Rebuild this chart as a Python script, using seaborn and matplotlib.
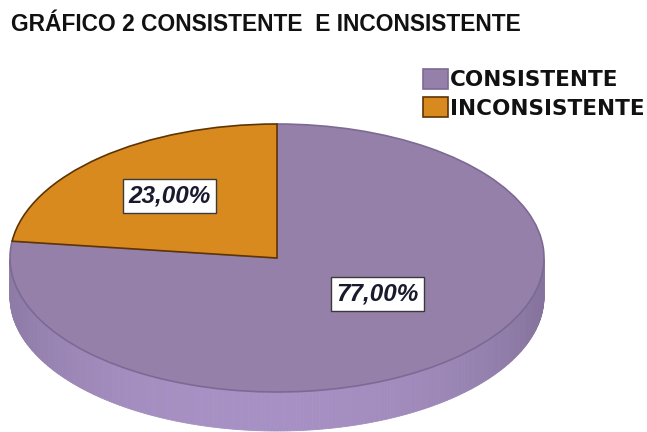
import numpy as np
import matplotlib
matplotlib.use("Agg")
import matplotlib.pyplot as plt
from matplotlib.collections import PolyCollection
from matplotlib.colors import to_rgb
import seaborn as sns

# --- data ---
categories = ["CONSISTENTE", "INCONSISTENTE"]
values = [77.0, 23.0]
title = "GRÁFICO 2 CONSISTENTE  E INCONSISTENTE"

# --- style ---
sns.set_theme(style="white")
plt.rcParams["font.family"] = ["DejaVu Sans"]

top_colors = ["#9580aa", "#d98a1e"]
edge_colors = ["#7d6a94", "#5e3405"]
side_colors = ["#a48ec0", "#c47a18"]

W, H = 647, 432
fig = plt.figure(figsize=(W / 100, H / 100), dpi=100)
ax = fig.add_axes([0, 0, 1, 1])

# ellipse geometry of the tilted disc (pixels)
cx, cy, rx, ry, depth = 277, 258, 267, 134, 39
d = depth / ry

wedges, _ = ax.pie(values, colors=top_colors, startangle=90, counterclock=False,
                   radius=1.0, wedgeprops=dict(linewidth=1.2))
for w, ec in zip(wedges, edge_colors):
    w.set_edgecolor(ec)
    w.set_zorder(3)

# visible side wall of the disc, built from each wedge's angular span
polys, fcs = [], []
for w, sc in zip(wedges, side_colors):
    t = np.radians(np.linspace(w.theta1, w.theta2, 400))
    base = np.array(to_rgb(sc))
    for t0, t1 in zip(t[:-1], t[1:]):
        if np.sin(t0) > 0 or np.sin(t1) > 0:
            continue
        x0, x1 = np.cos(t0), np.cos(t1)
        y0, y1 = np.sin(t0), np.sin(t1)
        polys.append([(x0, y0), (x1, y1), (x1, y1 - d), (x0, y0 - d)])
        xm = 0.5 * (x0 + x1)
        shade = 1.02 - 0.16 * abs(xm) ** 3 - 0.05 * max(xm, 0)
        fcs.append(np.clip(base * shade, 0, 1))
side = PolyCollection(polys, facecolors=fcs, edgecolors=fcs, linewidths=0.6, zorder=2)
ax.add_collection(side)

ax.set_aspect("auto")
ax.set_xlim((0 - cx) / rx, (W - cx) / rx)
ax.set_ylim((cy - H) / ry, cy / ry)
ax.axis("off")

# value labels
label_pos = [(0.378, -0.269), (-0.401, 0.463)]
for v, (lx, ly) in zip(values, label_pos):
    ax.text(lx, ly, f"{v:.2f}%".replace(".", ","), ha="center", va="center",
            fontsize=17.5, fontweight="bold", style="italic", color="#1a1a2e",
            family="Liberation Sans", zorder=5,
            bbox=dict(boxstyle="square,pad=0.22", fc="white", ec="#3a3a3a", lw=1))

fig.text(11 / W, 1 - 13 / H, title, ha="left", va="top", fontsize=16.4,
         fontweight="bold", family="Liberation Sans", color="#111111")

leg = fig.legend(wedges, categories, loc="upper left",
                 bbox_to_anchor=(423 / W, 1 - 69 / H), frameon=False,
                 prop=dict(family="DejaVu Sans", weight="bold", size=15.5),
                 handlelength=1.15, handleheight=1.05, handletextpad=0.12,
                 labelspacing=0.33, borderpad=0, borderaxespad=0)
for txt in leg.get_texts():
    txt.set_color("#111111")

fig.savefig("out.png", dpi=100)
